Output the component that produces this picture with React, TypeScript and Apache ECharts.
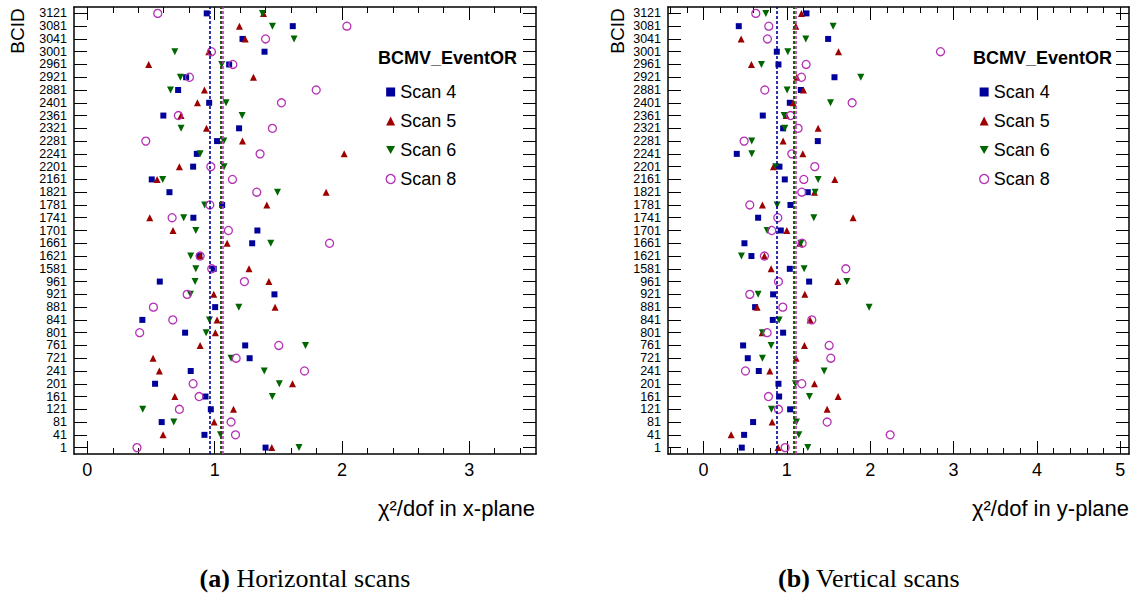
import React, { useEffect, useRef } from "react";
import * as echarts from "echarts";

// BCID categories, bottom to top
const categories = [
  "1", "41", "81", "121", "161", "201", "241", "721", "761", "801", "841", "881",
  "921", "961", "1581", "1621", "1661", "1701", "1741", "1781", "1821", "2161",
  "2201", "2241", "2281", "2321", "2361", "2401", "2881", "2921", "2961", "3001",
  "3041", "3081", "3121",
];

// chi2/dof in the x-plane (horizontal scans)
const scan4X = [1.40, 0.92, 0.584, 0.97, 0.928, 0.532, 0.812, 1.275, 1.24, 0.768, 0.432, 1.004, 1.47, 0.569, 0.993, 0.88, 1.295, 1.336, 0.833, 1.059, 0.645, 0.506, 0.831, 0.86, 1.019, 1.192, 0.597, 0.957, 0.713, 0.776, 1.114, 1.392, 1.219, 1.614, 0.938];
const scan5X = [1.449, 0.595, 0.996, 1.148, 0.687, 1.612, 0.566, 0.516, 0.886, 1.006, 1.019, 1.475, 0.993, 1.426, 1.27, 0.886, 1.098, 0.673, 0.49, 1.41, 1.876, 0.548, 0.723, 2.018, 1.219, 0.936, 0.736, 0.865, 0.92, 1.305, 0.482, 0.954, 1.24, 1.195, 1.384];
const scan6X = [1.663, 1.046, 0.679, 0.435, 1.453, 1.508, 1.39, 1.129, 1.714, 0.933, 0.959, 1.19, 0.81, 0.846, 0.852, 0.812, 1.441, 0.852, 0.757, 0.922, 1.494, 0.592, 1.074, 0.886, 1.072, 0.736, 1.216, 1.09, 0.653, 0.731, 1.056, 0.687, 1.624, 1.454, 1.376];
const scan8X = [0.39, 1.164, 1.129, 0.723, 0.878, 0.831, 1.706, 1.169, 1.504, 0.411, 0.671, 0.519, 0.784, 1.234, 0.977, 0.886, 1.903, 1.108, 0.666, 0.962, 1.331, 1.14, 0.97, 1.357, 0.459, 1.454, 0.715, 1.525, 1.798, 0.802, 1.143, 0.975, 1.4, 2.039, 0.553];

// chi2/dof in the y-plane (vertical scans)
const scan4Y = [0.46, 0.488, 0.596, 1.04, 0.908, 0.9, 0.664, 0.532, 0.476, 0.956, 0.832, 0.62, 0.836, 1.268, 1.036, 0.576, 0.492, 0.928, 0.656, 1.044, 1.252, 0.976, 0.912, 0.4, 1.372, 0.956, 0.712, 1.036, 1.168, 1.572, 0.9, 0.88, 1.496, 0.424, 1.236];
const scan5Y = [0.896, 0.332, 0.824, 1.484, 1.616, 1.332, 0.796, 1.112, 1.212, 0.704, 1.28, 0.644, 1.216, 1.612, 0.812, 0.732, 1.156, 1.0, 1.796, 0.708, 1.332, 1.576, 0.84, 1.192, 0.956, 1.376, 0.992, 1.076, 1.2, 1.12, 0.576, 1.62, 0.452, 1.108, 1.176];
const scan6Y = [1.252, 1.144, 1.116, 0.816, 1.272, 1.104, 1.448, 0.708, 0.812, 0.708, 0.908, 1.988, 0.656, 1.72, 1.208, 0.456, 1.168, 0.764, 1.324, 0.884, 1.34, 1.376, 0.868, 0.58, 0.58, 0.976, 0.968, 1.524, 1.004, 1.888, 0.696, 1.012, 1.228, 1.556, 0.748];
const scan8Y = [0.98, 2.24, 1.484, 0.9, 0.78, 1.18, 0.504, 1.528, 1.508, 0.764, 1.3, 0.952, 0.556, 0.9, 1.708, 0.732, 1.184, 0.82, 0.892, 0.556, 1.18, 1.204, 1.336, 1.06, 0.488, 1.136, 1.044, 1.784, 0.736, 1.176, 1.232, 2.844, 0.768, 0.784, 0.628];

// mean chi2/dof per scan (dashed lines): Scan 4, 5, 6, 8
const meanX = [0.965, 1.046, 1.053, 1.061];
const meanY = [0.876, 1.082, 1.076, 1.112];

const scanNames = ["Scan 4", "Scan 5", "Scan 6", "Scan 8"];
const majorTicksX = [0, 1, 2, 3];
const minorTicksX = [0.2, 0.4, 0.6, 0.8, 1.2, 1.4, 1.6, 1.8, 2.2, 2.4, 2.6, 2.8, 3.2, 3.4];
const majorTicksY = [0, 1, 2, 3, 4, 5];
const minorTicksY = [-0.4, -0.2, 0.2, 0.4, 0.6, 0.8, 1.2, 1.4, 1.6, 1.8, 2.2, 2.4, 2.6, 2.8, 3.2, 3.4, 3.6, 3.8, 4.2, 4.4, 4.6, 4.8];

const SANS = '"Liberation Sans", Arial, Helvetica, sans-serif';
const SERIF = '"Liberation Serif", "DejaVu Serif", serif';
const COLORS = ["#00009a", "#9c0000", "#006600", "#b530b5"];

const frameLine = { show: true, onZero: false, lineStyle: { color: "#000", width: 1.5 } };

function xAxes(grid: number, min: number, max: number, majors: number[], minors: number[]) {
  const base = { type: "value", gridIndex: grid, min, max, splitLine: { show: false } };
  const tickStyle = { color: "#000", width: 1 };
  const axes: any[] = [];
  for (const position of ["bottom", "top"]) {
    axes.push({
      ...base,
      position,
      axisLine: frameLine,
      axisTick: { show: true, inside: true, length: 13, customValues: majors, lineStyle: tickStyle },
      axisLabel: position === "bottom"
        ? { show: true, customValues: majors, fontSize: 18, margin: 7, color: "#000", fontFamily: SANS }
        : { show: false },
    });
    axes.push({
      ...base,
      position,
      axisLine: { show: false },
      axisTick: { show: true, inside: true, length: 6, customValues: minors, lineStyle: tickStyle },
      axisLabel: { show: false },
    });
  }
  return axes;
}

function yAxes(grid: number) {
  return ["left", "right"].map((position) => ({
    type: "category",
    gridIndex: grid,
    position,
    data: categories,
    boundaryGap: true,
    axisLine: frameLine,
    axisTick: { show: true, inside: true, alignWithLabel: true, interval: 0, length: 13, lineStyle: { color: "#000", width: 1 } },
    axisLabel: position === "left"
      ? { show: true, interval: 0, fontSize: 12.5, lineHeight: 12, margin: 7, color: "#000", fontFamily: SANS }
      : { show: false },
    splitLine: { show: false },
  }));
}

const symbols = [
  { symbol: "rect", symbolSize: 6, symbolRotate: 0 },
  { symbol: "triangle", symbolSize: 7, symbolRotate: 0 },
  { symbol: "triangle", symbolSize: 7, symbolRotate: 180 },
  { symbol: "circle", symbolSize: 8, symbolRotate: 0 },
];

function scanSeries(grid: number, sets: number[][], means: number[]) {
  return sets.map((vals, k) => ({
    type: "scatter",
    name: scanNames[k],
    xAxisIndex: grid * 4,
    yAxisIndex: grid * 2,
    ...symbols[k],
    itemStyle: k === 3
      ? { color: "rgba(0,0,0,0)", borderColor: COLORS[k], borderWidth: 1.3, opacity: 1 }
      : { color: COLORS[k], opacity: 1 },
    data: vals.map((v, i) => [v, i]),
    markLine: {
      silent: true,
      symbol: ["none", "none"],
      label: { show: false },
      lineStyle: { color: COLORS[k], type: [3, 2], width: 1.6, opacity: 1 },
      data: [{ xAxis: means[k] }],
    },
  }));
}

function legendFor(left: number) {
  return {
    orient: "vertical",
    left,
    top: 78,
    itemWidth: 9,
    itemHeight: 9,
    itemGap: 11,
    selectedMode: false,
    textStyle: { fontSize: 18, fontFamily: SANS, color: "#000" },
    data: [
      { name: "Scan 4", icon: "rect", itemStyle: { color: COLORS[0] } },
      { name: "Scan 5", icon: "triangle", itemStyle: { color: COLORS[1] } },
      { name: "Scan 6", icon: "path://M0,0L10,0L5,9Z", itemStyle: { color: COLORS[2] } },
      { name: "Scan 8", icon: "circle", itemStyle: { color: "rgba(0,0,0,0)", borderColor: COLORS[3], borderWidth: 1.3 } },
    ],
  };
}

function label(text: string, x: number, y: number, extra: any = {}) {
  return {
    type: "text",
    x,
    y,
    style: { text, fontSize: 18, fontFamily: SANS, fill: "#000", verticalAlign: "middle", ...extra },
  };
}

const captionRich = { b: { fontWeight: "bold", fontSize: 26, fontFamily: SERIF } };

export default function App() {
  const ref = useRef<HTMLDivElement>(null);

  useEffect(() => {
    if (!ref.current) return;
    const chart = echarts.init(ref.current, undefined, { renderer: "svg" });
    chart.setOption({
      animation: false,
      backgroundColor: "#fff",
      grid: [
        { left: 74, top: 7, width: 462, height: 447 },
        { left: 668, top: 7, width: 461, height: 447 },
      ],
      xAxis: [
        ...xAxes(0, -0.105, 3.525, majorTicksX, minorTicksX),
        ...xAxes(1, -0.425, 5.105, majorTicksY, minorTicksY),
      ],
      yAxis: [...yAxes(0), ...yAxes(1)],
      legend: [legendFor(380.5), legendFor(974)],
      series: [
        ...scanSeries(0, [scan4X, scan5X, scan6X, scan8X], meanX),
        ...scanSeries(1, [scan4Y, scan5Y, scan6Y, scan8Y], meanY),
      ],
      graphic: [
        label("BCMV_EventOR", 378, 58, { fontWeight: "bold" }),
        label("BCMV_EventOR", 973, 58, { fontWeight: "bold" }),
        { ...label("BCID", 17, 31, { fontSize: 19, align: "center" }), rotation: Math.PI / 2 },
        { ...label("BCID", 617, 31, { fontSize: 19, align: "center" }), rotation: Math.PI / 2 },
        label("χ²/dof in x-plane", 535, 508, { align: "right", fontSize: 22 }),
        label("χ²/dof in y-plane", 1129, 508, { align: "right", fontSize: 22 }),
        label("{b|(a)} Horizontal scans", 305, 578, {
          align: "center", fontSize: 26, fontFamily: SERIF, rich: captionRich,
        }),
        label("{b|(b)} Vertical scans", 869, 578, {
          align: "center", fontSize: 26, fontFamily: SERIF, rich: captionRich,
        }),
      ],
    });
    return () => chart.dispose();
  }, []);

  return (
    <div
      ref={ref}
      style={{ position: "fixed", left: 0, top: 0, width: 1136, height: 596, background: "#fff" }}
    />
  );
}
